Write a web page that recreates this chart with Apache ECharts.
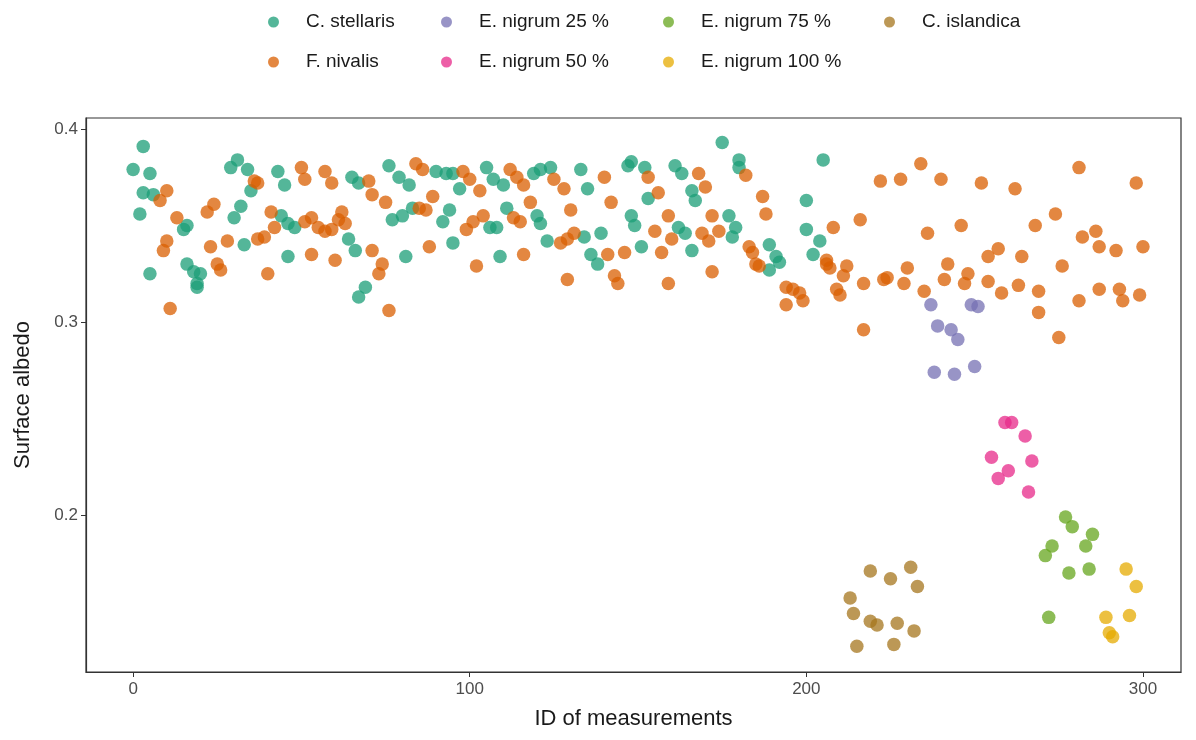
<!DOCTYPE html>
<html>
<head>
<meta charset="utf-8">
<script src="https://cdn.jsdelivr.net/npm/echarts@6/dist/echarts.min.js"></script>
<style>
html,body{margin:0;padding:0;background:#fff;}
#chart{width:1196px;height:740px;}
</style>
</head>
<body>
<div id="chart"></div>
<script>
// ---- data (ID of measurement, surface albedo) ----
const seriesNames = ['C. stellaris','F. nivalis','E. nigrum 25 %','E. nigrum 50 %','E. nigrum 75 %','E. nigrum 100 %','C. islandica'];
const seriesColors = ['#1B9E77','#D95F02','#7570B3','#E7298A','#66A61E','#E6AB02','#A6761D'];
const xTickLabels = [0, 100, 200, 300];
const yTickLabels = [0.2, 0.3, 0.4];

const cStellaris = [[0,0.379],[2,0.356],[3,0.391],[3,0.367],[5,0.325],[5,0.377],[6,0.366],[15,0.348],[16,0.350],[16,0.330],[18,0.326],[20,0.325],[19,0.320],[19,0.318],[29,0.380],[31,0.384],[34,0.379],[43,0.378],[45,0.371],[32,0.360],[30,0.354],[35,0.368],[44,0.355],[46,0.351],[33,0.340],[46,0.334],[48,0.349],[65,0.375],[67,0.372],[76,0.381],[79,0.375],[82,0.371],[90,0.378],[93,0.377],[95,0.377],[97,0.369],[77,0.353],[80,0.355],[83,0.359],[94,0.358],[92,0.352],[95,0.341],[64,0.343],[66,0.337],[81,0.334],[69,0.318],[67,0.313],[105,0.380],[107,0.374],[110,0.371],[119,0.377],[121,0.379],[124,0.380],[133,0.379],[135,0.369],[148,0.383],[147,0.381],[152,0.380],[153,0.364],[111,0.359],[120,0.355],[121,0.351],[106,0.349],[108,0.349],[123,0.342],[134,0.344],[139,0.346],[148,0.355],[149,0.350],[151,0.339],[109,0.334],[136,0.335],[138,0.330],[175,0.393],[180,0.384],[180,0.380],[205,0.384],[161,0.381],[163,0.377],[166,0.368],[167,0.363],[200,0.363],[177,0.355],[179,0.349],[178,0.344],[162,0.349],[164,0.346],[166,0.337],[200,0.348],[204,0.342],[202,0.335],[189,0.340],[191,0.334],[192,0.331],[189,0.327]];

const fNivalis = [[10,0.368],[8,0.363],[24,0.361],[22,0.357],[13,0.354],[10,0.342],[9,0.337],[23,0.339],[28,0.342],[37,0.372],[36,0.373],[41,0.357],[42,0.349],[37,0.343],[39,0.344],[25,0.330],[26,0.327],[40,0.325],[11,0.307],[50,0.380],[51,0.374],[57,0.378],[59,0.372],[70,0.373],[71,0.366],[75,0.362],[84,0.382],[86,0.379],[98,0.378],[89,0.365],[85,0.359],[87,0.358],[99,0.348],[51,0.352],[53,0.354],[55,0.349],[57,0.347],[59,0.348],[61,0.353],[62,0.357],[63,0.351],[53,0.335],[60,0.332],[71,0.337],[74,0.330],[73,0.325],[88,0.339],[76,0.306],[100,0.374],[103,0.368],[112,0.379],[114,0.375],[116,0.371],[125,0.374],[128,0.369],[140,0.375],[118,0.362],[130,0.358],[142,0.362],[153,0.375],[104,0.355],[101,0.352],[113,0.354],[115,0.352],[127,0.341],[129,0.343],[131,0.346],[116,0.335],[141,0.335],[146,0.336],[102,0.329],[129,0.322],[143,0.324],[144,0.320],[156,0.367],[168,0.377],[170,0.370],[182,0.376],[187,0.365],[188,0.356],[159,0.355],[155,0.347],[160,0.343],[172,0.355],[169,0.346],[171,0.342],[174,0.347],[157,0.336],[172,0.326],[159,0.320],[183,0.339],[184,0.336],[185,0.330],[186,0.329],[194,0.318],[196,0.317],[198,0.315],[199,0.311],[194,0.309],[206,0.332],[234,0.382],[222,0.373],[228,0.374],[240,0.374],[252,0.372],[208,0.349],[216,0.353],[236,0.346],[246,0.350],[254,0.334],[257,0.338],[206,0.330],[207,0.328],[212,0.329],[211,0.324],[209,0.317],[210,0.314],[217,0.320],[223,0.322],[224,0.323],[230,0.328],[229,0.320],[235,0.316],[242,0.330],[241,0.322],[248,0.325],[247,0.320],[254,0.321],[258,0.315],[281,0.380],[298,0.372],[262,0.369],[274,0.356],[268,0.350],[282,0.344],[286,0.347],[287,0.339],[292,0.337],[300,0.339],[264,0.334],[276,0.329],[263,0.319],[269,0.316],[269,0.305],[281,0.311],[287,0.317],[293,0.317],[294,0.311],[299,0.314],[217,0.296],[275,0.292]];

const eNigrum25 = [[237,0.309],[249,0.309],[251,0.308],[239,0.298],[243,0.296],[245,0.291],[238,0.274],[244,0.273],[250,0.277]];
const eNigrum50 = [[259,0.248],[261,0.248],[265,0.241],[255,0.230],[267,0.228],[260,0.223],[257,0.219],[266,0.212]];
const eNigrum75 = [[277,0.199],[279,0.194],[285,0.190],[283,0.184],[273,0.184],[271,0.179],[278,0.170],[284,0.172],[272,0.147]];
const eNigrum100 = [[295,0.172],[298,0.163],[289,0.147],[296,0.148],[290,0.139],[291,0.137]];
const cIslandica = [[219,0.171],[225,0.167],[231,0.173],[233,0.163],[213,0.157],[214,0.149],[219,0.145],[221,0.143],[227,0.144],[232,0.140],[215,0.132],[226,0.133]];

const seriesData = [cStellaris, fNivalis, eNigrum25, eNigrum50, eNigrum75, eNigrum100, cIslandica];

// ---- chart ----
const FONT = 'Liberation Sans, Arial, Helvetica, sans-serif';
const chart = echarts.init(document.getElementById('chart'), null, {renderer: 'canvas'});

const legendCols = [
  {left: 268, names: ['C. stellaris', 'F. nivalis']},
  {left: 441, names: ['E. nigrum 25 %', 'E. nigrum 50 %']},
  {left: 663, names: ['E. nigrum 75 %', 'E. nigrum 100 %']},
  {left: 884, names: ['C. islandica']}
];

const option = {
  backgroundColor: '#ffffff',
  animation: false,
  textStyle: {fontFamily: FONT},
  legend: legendCols.map(c => ({
    orient: 'vertical',
    left: c.left,
    top: 12,
    padding: 0,
    itemGap: 20,
    itemWidth: 11,
    itemHeight: 11,
    icon: 'circle',
    selectedMode: false,
    data: c.names,
    textStyle: {fontFamily: FONT, fontSize: 19, color: '#1a1a1a', lineHeight: 20, padding: [0, 0, 0, 22]}
  })),
  grid: {
    left: 86, right: 15, top: 118, bottom: 68,
    show: true, borderColor: '#333333', borderWidth: 1.2, backgroundColor: 'transparent'
  },
  xAxis: {
    type: 'value',
    min: -14,
    max: 311.3,
    name: 'ID of measurements',
    nameLocation: 'middle',
    nameGap: 36,
    nameTextStyle: {fontFamily: FONT, fontSize: 22, color: '#1a1a1a'},
    axisLine: {show: true, onZero: false, lineStyle: {color: '#333333', width: 1.2}},
    splitLine: {show: false},
    axisTick: {show: true, length: 5, lineStyle: {color: '#333333'}, customValues: xTickLabels},
    axisLabel: {color: '#4d4d4d', fontSize: 17, fontFamily: FONT, margin: 9, customValues: xTickLabels}
  },
  yAxis: {
    type: 'value',
    min: 0.1187,
    max: 0.4057,
    name: 'Surface albedo',
    nameLocation: 'middle',
    nameGap: 52,
    nameTextStyle: {fontFamily: FONT, fontSize: 22, color: '#1a1a1a'},
    axisLine: {show: true, onZero: false, lineStyle: {color: '#333333', width: 1.2}},
    splitLine: {show: false},
    axisTick: {show: true, length: 5, lineStyle: {color: '#333333'}, customValues: yTickLabels},
    axisLabel: {color: '#4d4d4d', fontSize: 17, fontFamily: FONT, margin: 8, customValues: yTickLabels,
      formatter: v => v.toFixed(1)}
  },
  series: seriesNames.map((n, i) => ({
    name: n,
    type: 'scatter',
    data: seriesData[i],
    symbol: 'circle',
    symbolSize: 13.5,
    itemStyle: {color: seriesColors[i], opacity: 0.75},
    emphasis: {disabled: true}
  }))
};
chart.setOption(option);
</script>
</body>
</html>
